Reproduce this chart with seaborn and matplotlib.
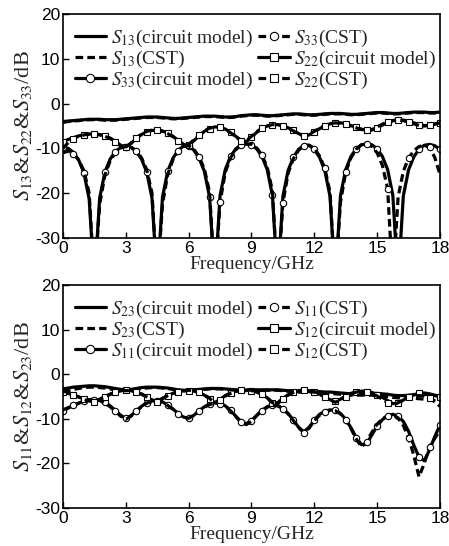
import matplotlib
matplotlib.use('Agg')
import matplotlib.pyplot as plt
import seaborn as sns

# frequency grid (GHz)
freq = [0, 0.25, 0.5, 0.75, 1, 1.25, 1.5, 1.75, 2, 2.25, 2.5, 2.75,
        3, 3.25, 3.5, 3.75, 4, 4.25, 4.5, 4.75, 5, 5.25, 5.5, 5.75,
        6, 6.25, 6.5, 6.75, 7, 7.25, 7.5, 7.75, 8, 8.25, 8.5, 8.75,
        9, 9.25, 9.5, 9.75, 10, 10.25, 10.5, 10.75, 11, 11.25, 11.5, 11.75,
        12, 12.25, 12.5, 12.75, 13, 13.25, 13.5, 13.75, 14, 14.25, 14.5, 14.75,
        15, 15.25, 15.5, 15.75, 16, 16.25, 16.5, 16.75, 17, 17.25, 17.5, 17.75,
        18]

# ---- top panel ----
s13_circ = [-4.0, -3.9, -3.8, -3.7, -3.6, -3.5, -3.5, -3.5,
            -3.6, -3.6, -3.6, -3.5, -3.4, -3.3, -3.2, -3.1,
            -3.0, -3.0, -3.0, -3.1, -3.2, -3.3, -3.3, -3.2,
            -3.1, -3.0, -2.9, -2.8, -2.8, -2.8, -2.9, -3.0,
            -3.0, -2.9, -2.7, -2.6, -2.5, -2.5, -2.6, -2.7,
            -2.7, -2.6, -2.5, -2.4, -2.3, -2.3, -2.4, -2.5,
            -2.5, -2.4, -2.3, -2.2, -2.2, -2.2, -2.3, -2.4,
            -2.4, -2.3, -2.2, -2.1, -2.0, -2.0, -2.1, -2.2,
            -2.2, -2.1, -2.0, -1.9, -1.9, -1.9, -2.0, -2.0,
            -1.9]
s13_cst = [-4.2, -4.0, -3.9, -3.8, -3.7, -3.6, -3.6, -3.6,
           -3.7, -3.7, -3.7, -3.6, -3.5, -3.4, -3.3, -3.2,
           -3.1, -3.1, -3.1, -3.2, -3.3, -3.4, -3.4, -3.3,
           -3.2, -3.1, -3.0, -2.9, -2.9, -2.9, -3.0, -3.1,
           -3.1, -3.0, -2.8, -2.7, -2.6, -2.6, -2.7, -2.8,
           -2.8, -2.7, -2.6, -2.5, -2.4, -2.4, -2.5, -2.6,
           -2.6, -2.5, -2.4, -2.3, -2.3, -2.3, -2.4, -2.5,
           -2.5, -2.4, -2.3, -2.2, -2.1, -2.1, -2.2, -2.3,
           -2.3, -2.2, -2.1, -2.0, -2.0, -2.0, -2.1, -2.1,
           -2.0]
s33_circ = [-9.8, -10.0, -10.9, -12.6, -15.5, -21.3, -40, -21.1,
            -15.3, -12.4, -10.7, -9.8, -9.6, -9.8, -10.7, -12.4,
            -15.3, -21.1, -40, -20.9, -15.1, -12.2, -10.4, -9.5,
            -9.5, -10.4, -12.2, -15.1, -20.9, -40, -20.5, -14.7,
            -11.8, -10.1, -9.2, -9.0, -9.2, -10.1, -11.8, -14.7,
            -20.5, -40, -20.7, -14.9, -12.0, -10.2, -9.3, -9.3,
            -10.2, -12.0, -14.9, -20.7, -40, -20.5, -14.7, -11.8,
            -10.1, -9.2, -9.0, -9.2, -10.1, -11.8, -14.7, -20.5,
            -40, -20.6, -14.8, -11.9, -10.2, -9.3, -9.1, -9.4,
            -10.2]
s33_cst = [-11.0, -10.6, -11.2, -12.6, -15.0, -20.0, -40, -22.5,
           -16.0, -12.8, -10.9, -9.9, -9.6, -9.7, -10.5, -12.1,
           -14.8, -20.0, -40, -22.5, -15.8, -12.5, -10.6, -9.6,
           -9.4, -10.2, -11.9, -14.6, -19.8, -40, -22.0, -15.3,
           -12.1, -10.3, -9.3, -9.0, -9.1, -9.9, -11.5, -14.2,
           -19.5, -40, -22.2, -15.5, -12.3, -10.4, -9.4, -9.3,
           -10.0, -11.7, -14.4, -19.8, -40, -22.0, -15.3, -12.1,
           -10.2, -9.2, -9.0, -9.6, -11.0, -13.8, -19.0, -40,
           -20.9, -15.1, -12.2, -10.5, -9.6, -9.3, -9.8, -12.0,
           -15.8]
s22_circ = [-8.5, -8.0, -7.6, -7.2, -7.0, -6.8, -6.8, -6.9,
            -7.2, -7.7, -8.4, -9.3, -9.8, -8.9, -7.8, -6.9,
            -6.3, -6.0, -5.9, -6.1, -6.6, -7.3, -8.2, -9.1,
            -9.3, -8.3, -7.2, -6.2, -5.6, -5.2, -5.3, -5.7,
            -6.4, -7.3, -8.2, -8.5, -7.5, -6.4, -5.6, -5.0,
            -4.7, -4.7, -4.9, -5.4, -6.0, -6.7, -7.2, -7.0,
            -6.3, -5.6, -5.0, -4.5, -4.3, -4.3, -4.5, -4.9,
            -5.3, -5.7, -6.0, -5.9, -5.4, -4.8, -4.2, -3.8,
            -3.6, -3.7, -3.9, -4.3, -4.7, -4.9, -4.9, -4.6,
            -4.3]
s22_cst = [-10.0, -8.7, -7.8, -7.3, -7.0, -6.8, -6.8, -7.0,
           -7.3, -7.8, -8.5, -9.4, -9.7, -8.8, -7.7, -6.8,
           -6.2, -5.9, -5.9, -6.2, -6.7, -7.4, -8.3, -9.2,
           -9.1, -8.1, -7.0, -6.1, -5.5, -5.2, -5.3, -5.8,
           -6.5, -7.4, -8.3, -8.3, -7.3, -6.3, -5.5, -5.0,
           -4.7, -4.7, -5.0, -5.5, -6.1, -6.8, -7.2, -6.9,
           -6.2, -5.5, -4.9, -4.5, -4.3, -4.4, -4.6, -5.0,
           -5.4, -5.8, -6.0, -5.8, -5.2, -4.6, -4.1, -3.8,
           -3.7, -3.8, -4.1, -4.5, -4.9, -5.0, -4.8, -4.5,
           -4.3]

# ---- bottom panel ----
s23_circ = [-3.3, -3.1, -2.9, -2.8, -2.7, -2.6, -2.6, -2.7,
            -2.8, -3.0, -3.2, -3.4, -3.5, -3.4, -3.2, -3.0,
            -2.9, -2.9, -2.9, -3.0, -3.1, -3.3, -3.5, -3.6,
            -3.6, -3.5, -3.4, -3.3, -3.2, -3.2, -3.2, -3.3,
            -3.4, -3.5, -3.6, -3.6, -3.6, -3.5, -3.5, -3.5,
            -3.5, -3.5, -3.6, -3.7, -3.8, -3.9, -3.9, -3.9,
            -3.9, -3.9, -4.0, -4.0, -4.1, -4.2, -4.3, -4.4,
            -4.4, -4.4, -4.3, -4.3, -4.3, -4.4, -4.5, -4.7,
            -4.8, -4.8, -4.7, -4.6, -4.5, -4.5, -4.6, -4.8,
            -5.0]
s23_cst = [-4.0, -3.7, -3.4, -3.2, -3.0, -2.9, -2.9, -3.0,
           -3.1, -3.3, -3.5, -3.6, -3.7, -3.6, -3.4, -3.2,
           -3.1, -3.0, -3.0, -3.1, -3.2, -3.4, -3.6, -3.7,
           -3.7, -3.6, -3.5, -3.4, -3.3, -3.3, -3.3, -3.4,
           -3.5, -3.6, -3.7, -3.7, -3.7, -3.6, -3.6, -3.6,
           -3.6, -3.6, -3.7, -3.8, -3.9, -4.0, -4.0, -4.0,
           -4.0, -4.1, -4.2, -4.3, -4.4, -4.5, -4.6, -4.7,
           -4.7, -4.7, -4.7, -4.7, -4.8, -4.9, -5.0, -5.2,
           -5.3, -5.4, -5.4, -5.4, -5.5, -5.6, -5.7, -5.9,
           -6.2]
s11_circ = [-8.2, -7.6, -7.0, -6.5, -6.0, -5.7, -5.6, -5.8,
            -6.3, -7.1, -8.1, -9.2, -9.9, -9.3, -8.2, -7.2,
            -6.4, -6.0, -5.9, -6.2, -6.9, -7.8, -8.8, -9.6,
            -9.9, -9.2, -8.2, -7.3, -6.7, -6.4, -6.5, -7.1,
            -8.1, -9.4, -10.6, -11.1, -10.4, -9.2, -8.1, -7.3,
            -6.9, -7.0, -7.7, -8.8, -10.3, -11.9, -12.9, -11.9,
            -10.3, -9.0, -8.3, -8.0, -8.1, -8.8, -10.1, -12.0,
            -14.2, -15.8, -15.6, -13.6, -11.6, -10.2, -9.3, -9.0,
            -9.4, -10.6, -12.8, -15.9, -18.6, -19.4, -17.0, -14.0,
            -11.4]
s11_cst = [-8.0, -7.5, -7.0, -6.5, -6.1, -5.8, -5.7, -5.9,
           -6.5, -7.3, -8.3, -9.4, -10.1, -9.4, -8.3, -7.3,
           -6.5, -6.1, -6.0, -6.3, -7.0, -7.9, -8.9, -9.7,
           -9.9, -9.2, -8.2, -7.4, -6.8, -6.5, -6.6, -7.2,
           -8.2, -9.5, -10.8, -11.3, -10.6, -9.3, -8.2, -7.4,
           -7.0, -7.1, -7.8, -8.9, -10.4, -12.0, -13.1, -12.1,
           -10.4, -9.2, -8.4, -8.1, -8.2, -8.9, -10.2, -12.2,
           -14.5, -16.3, -15.2, -13.0, -11.2, -10.0, -9.3, -9.1,
           -9.8, -11.5, -14.2, -18.2, -23.0, -20.0, -16.3, -14.4,
           -12.6]
s12_circ = [-4.0, -4.3, -4.7, -5.1, -5.5, -5.8, -6.0, -5.6,
            -5.0, -4.5, -4.0, -3.7, -3.6, -3.7, -4.0, -4.5,
            -5.1, -5.8, -6.0, -5.4, -4.8, -4.3, -3.9, -3.7,
            -3.7, -3.8, -4.1, -4.7, -5.5, -6.4, -5.6, -4.8,
            -4.2, -3.8, -3.6, -3.6, -3.7, -4.0, -4.5, -5.3,
            -6.5, -6.4, -5.4, -4.6, -4.0, -3.7, -3.6, -3.7,
            -4.0, -4.5, -5.1, -5.7, -6.1, -5.6, -4.9, -4.3,
            -4.0, -3.8, -3.8, -4.1, -4.6, -5.2, -5.9, -6.6,
            -6.5, -5.8, -5.1, -4.6, -4.3, -4.2, -4.4, -4.7,
            -5.0]
s12_cst = [-3.7, -4.1, -4.6, -5.1, -5.6, -6.0, -6.2, -5.7,
           -5.1, -4.5, -4.0, -3.7, -3.5, -3.6, -3.9, -4.4,
           -5.1, -5.8, -6.2, -5.5, -4.8, -4.3, -3.9, -3.7,
           -3.6, -3.7, -4.0, -4.6, -5.4, -6.5, -5.8, -4.9,
           -4.3, -3.9, -3.6, -3.5, -3.6, -3.9, -4.4, -5.2,
           -6.4, -6.6, -5.6, -4.7, -4.1, -3.7, -3.5, -3.6,
           -3.9, -4.4, -5.0, -5.7, -6.3, -5.8, -5.0, -4.4,
           -4.0, -3.8, -3.9, -4.3, -4.9, -5.6, -6.4, -7.0,
           -6.4, -5.7, -5.2, -4.9, -4.8, -4.9, -5.4, -6.2,
           -7.2]

xticks = [0, 3, 6, 9, 12, 15, 18]
yticks = [-30, -20, -10, 0, 10, 20]

sns.set_theme(style='ticks')
plt.rcParams['font.family'] = ['Liberation Sans', 'DejaVu Sans']
plt.rcParams['mathtext.fontset'] = 'stix'
plt.rcParams['axes.unicode_minus'] = False

SERIF = ['Liberation Serif', 'DejaVu Serif']
LW = 2.3
DASH = (0, (2.4, 1.3))


def panel(ax, curves, ylabel):
    # curves: (values, label, dashed, marker)
    # solid lines first, dashed CST on top
    for dashed in (False, True):
        for vals, label, is_dash, mk in curves:
            if is_dash != dashed:
                continue
            kw = dict(color='black', linewidth=LW, label=label)
            kw['linestyle'] = DASH if is_dash else '-'
            if mk:
                kw.update(marker=mk, markersize=4.6, markerfacecolor='white',
                          markeredgecolor='black', markeredgewidth=0.8,
                          markevery=(2, 4) if is_dash else (0, 4))
            sns.lineplot(x=freq, y=vals, ax=ax, errorbar=None, estimator=None,
                         sort=False, **kw)
    h, l = ax.get_legend_handles_labels()
    lookup = dict(zip(l, h))
    order = [c[1] for c in curves]
    ax.legend([lookup[k] for k in order], order, loc='upper left',
              bbox_to_anchor=(0.0, 0.99), ncol=2, frameon=False,
              prop={'family': SERIF, 'size': 14}, handlelength=1.6,
              handletextpad=0.25, columnspacing=0.3, labelspacing=0.0,
              borderaxespad=0.2, numpoints=1, markerscale=1.3)
    ax.set_xlim(0, 18)
    ax.set_ylim(-30, 20)
    ax.set_xticks(xticks)
    ax.set_yticks(yticks)
    ax.tick_params(direction='in', length=4, width=1, labelsize=12.5,
                   top=False, right=False, pad=2, colors='black')
    for s in ax.spines.values():
        s.set_linewidth(1.2)
        s.set_color('black')
    ax.set_xlabel('Frequency/GHz', family=SERIF, fontsize=14, labelpad=0)
    ax.set_ylabel(ylabel, family=SERIF, fontsize=16, labelpad=1)


fig = plt.figure(figsize=(4.49, 5.46), dpi=100)
ax1 = fig.add_axes([0.1403, 0.5641, 0.8396, 0.4103])
ax2 = fig.add_axes([0.1403, 0.0696, 0.8396, 0.4084])

panel(ax1, [
    (s13_circ, r'$S_{13}$(circuit model)', False, None),
    (s13_cst, r'$S_{13}$(CST)', True, None),
    (s33_circ, r'$S_{33}$(circuit model)', False, 'o'),
    (s33_cst, r'$S_{33}$(CST)', True, 'o'),
    (s22_circ, r'$S_{22}$(circuit model)', False, 's'),
    (s22_cst, r'$S_{22}$(CST)', True, 's'),
], r'$S_{13}$&$S_{22}$&$S_{33}$/dB')

panel(ax2, [
    (s23_circ, r'$S_{23}$(circuit model)', False, None),
    (s23_cst, r'$S_{23}$(CST)', True, None),
    (s11_circ, r'$S_{11}$(circuit model)', False, 'o'),
    (s11_cst, r'$S_{11}$(CST)', True, 'o'),
    (s12_circ, r'$S_{12}$(circuit model)', False, 's'),
    (s12_cst, r'$S_{12}$(CST)', True, 's'),
], r'$S_{11}$&$S_{12}$&$S_{23}$/dB')

fig.savefig('out.png', dpi=100, facecolor='white')
